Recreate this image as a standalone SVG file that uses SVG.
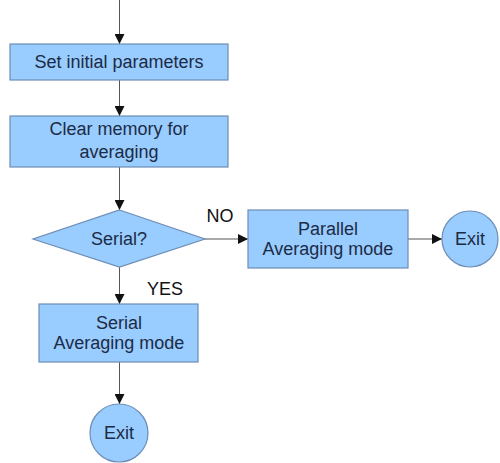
<svg xmlns="http://www.w3.org/2000/svg" width="500" height="463" viewBox="0 0 500 463">
  <style>
    .shape { fill: #99ccff; stroke: #6d8db5; stroke-width: 1.2; }
    .label { font-family: "Liberation Sans", Arial, sans-serif; font-size: 18px; fill: #1c2b45; text-anchor: middle; dominant-baseline: central; }
    .tag { font-family: "Liberation Sans", Arial, sans-serif; font-size: 18px; fill: #111; text-anchor: middle; dominant-baseline: central; }
    .edge { stroke: #555; stroke-width: 1; fill: none; marker-end: url(#arrow); }
  </style>
  <defs>
    <marker id="arrow" viewBox="0 0 10 10" refX="10" refY="5" markerWidth="10" markerHeight="10" markerUnits="userSpaceOnUse" orient="auto">
      <path d="M0,0 L10,5 L0,10 z" fill="#111"/>
    </marker>
  </defs>
  <rect width="500" height="463" fill="#ffffff"/>

  <g id="connectors">
    <line class="edge" x1="119.5" y1="0" x2="119.5" y2="44"/>
    <line class="edge" x1="119.5" y1="80" x2="119.5" y2="116"/>
    <line class="edge" x1="119.5" y1="167" x2="119.5" y2="210"/>
    <line class="edge" x1="205" y1="239" x2="248" y2="239"/>
    <line class="edge" x1="119.5" y1="267" x2="119.5" y2="304"/>
    <line class="edge" x1="408" y1="239" x2="442" y2="239"/>
    <line class="edge" x1="119.5" y1="362" x2="119.5" y2="404"/>
    <text class="tag" x="220" y="216">NO</text>
    <text class="tag" x="165" y="289">YES</text>
  </g>

  <g id="set-params">
    <rect class="shape" x="10" y="44" width="218" height="36"/>
    <text class="label" x="119" y="62">Set initial parameters</text>
  </g>

  <g id="clear-memory">
    <rect class="shape" x="10" y="116" width="218" height="51"/>
    <text class="label" x="119" y="129">Clear memory for</text>
    <text class="label" x="119" y="152">averaging</text>
  </g>

  <g id="serial-decision">
    <polygon class="shape" points="119.5,210 205,239 119.5,267 33,239"/>
    <text class="label" x="119" y="239">Serial?</text>
  </g>

  <g id="parallel-mode">
    <rect class="shape" x="248" y="210" width="160" height="58"/>
    <text class="label" x="328" y="229">Parallel</text>
    <text class="label" x="328" y="249">Averaging mode</text>
  </g>

  <g id="exit-parallel">
    <circle class="shape" cx="470" cy="239" r="28"/>
    <text class="label" x="470" y="239">Exit</text>
  </g>

  <g id="serial-mode">
    <rect class="shape" x="39" y="304" width="159" height="58"/>
    <text class="label" x="119" y="323">Serial</text>
    <text class="label" x="119" y="343">Averaging mode</text>
  </g>

  <g id="exit-serial">
    <circle class="shape" cx="119" cy="433" r="29"/>
    <text class="label" x="119" y="433">Exit</text>
  </g>
</svg>
